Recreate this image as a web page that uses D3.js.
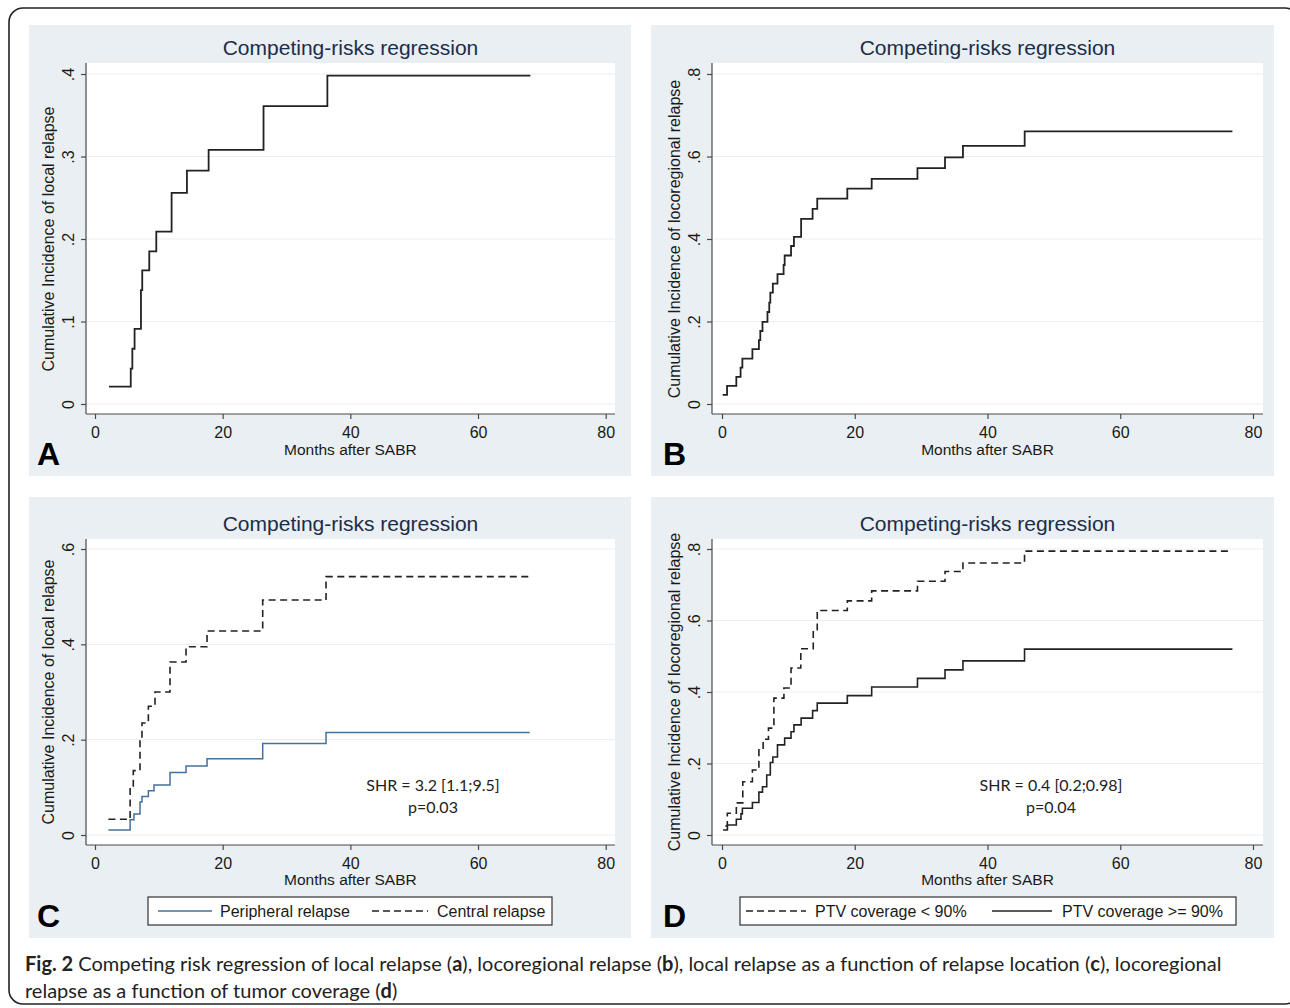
<!DOCTYPE html>
<html><head><meta charset="utf-8">
<script src="https://cdn.jsdelivr.net/npm/d3@7"></script>
<style>
html,body{margin:0;padding:0;background:#fff;}
svg{display:block;}
</style></head>
<body>
<svg id="fig" width="1290" height="1008"></svg>
<script>
// ---------------- DATA ----------------
const monthTicks = [0, 20, 40, 60, 80];
const panelTitle = "Competing-risks regression";
const xTitle = "Months after SABR";

// Panel A: local relapse
const aTime = [2.2, 5.6, 5.85, 6.2, 7.2, 7.4, 8.5, 9.6, 12.0, 14.4, 17.8, 26.4, 36.4];
const aCif  = [0.021, 0.043, 0.067, 0.091, 0.138, 0.162, 0.185, 0.209, 0.256, 0.283, 0.308, 0.361, 0.398];
const aEnd  = 68.2;
const aTicks = [0, 0.1, 0.2, 0.3, 0.4];

// Panel B: locoregional relapse
const bTime = [0.1, 0.76, 2.16, 2.8, 3.07, 4.58, 5.56, 5.77, 6.1, 6.85, 7.12, 7.28, 7.66, 8.36, 9.28, 9.44, 10.4, 10.84, 11.92, 13.65, 14.35, 18.88, 22.55, 29.45, 33.6, 36.3, 45.6];
const bCif  = [0.022, 0.044, 0.066, 0.088, 0.110, 0.133, 0.155, 0.177, 0.199, 0.223, 0.246, 0.270, 0.292, 0.315, 0.337, 0.360, 0.383, 0.405, 0.449, 0.473, 0.498, 0.522, 0.546, 0.572, 0.598, 0.626, 0.661];
const bEnd  = 76.9;
const bTicks = [0, 0.2, 0.4, 0.6, 0.8];

// Panel C: local relapse by relapse location
const cPeriTime = [2.1, 5.5, 6.1, 7.05, 7.36, 8.36, 9.24, 11.75, 14.26, 17.55, 26.27, 36.19];
const cPeriCif  = [0.0105, 0.032, 0.044, 0.069, 0.081, 0.093, 0.105, 0.131, 0.145, 0.160, 0.192, 0.215];
const cPeriEnd  = 68.1;
const cCentTime = [2.1, 5.5, 6.0, 7.05, 7.36, 8.36, 9.4, 11.75, 14.26, 17.55, 26.27, 36.19];
const cCentCif  = [0.033, 0.100, 0.135, 0.201, 0.235, 0.270, 0.300, 0.363, 0.395, 0.428, 0.493, 0.542];
const cCentEnd  = 67.9;
const cTicks = [0, 0.2, 0.4, 0.6];
const cLegend = ["Peripheral relapse", "Central relapse"];
const cNote = ["SHR = 3.2 [1.1;9.5]", "p=0.03"];

// Panel D: locoregional relapse by tumor coverage
const dLowTime = [0.5, 0.8, 2.16, 3.13, 4.58, 5.56, 6.2, 7.0, 7.82, 9.33, 10.4, 11.87, 13.75, 14.35, 18.88, 22.55, 29.45, 33.6, 36.3, 45.58];
const dLowCif  = [0.025, 0.061, 0.09, 0.149, 0.182, 0.238, 0.268, 0.299, 0.383, 0.411, 0.467, 0.521, 0.574, 0.628, 0.655, 0.683, 0.710, 0.737, 0.761, 0.794];
const dLowEnd  = 76.9;
const dHighTime = [0.16, 0.81, 2.16, 2.86, 3.07, 4.58, 5.56, 6.1, 6.74, 7.28, 7.66, 8.36, 9.44, 10.4, 10.84, 11.92, 13.65, 14.35, 18.88, 22.55, 29.45, 33.6, 36.3, 45.58];
const dHighCif  = [0.014, 0.028, 0.044, 0.059, 0.075, 0.091, 0.120, 0.135, 0.168, 0.203, 0.218, 0.252, 0.271, 0.289, 0.308, 0.327, 0.348, 0.369, 0.390, 0.414, 0.438, 0.462, 0.487, 0.520];
const dHighEnd  = 76.9;
const dTicks = [0, 0.2, 0.4, 0.6, 0.8];
const dLegend = ["PTV coverage < 90%", "PTV coverage >= 90%"];
const dNote = ["SHR = 0.4 [0.2;0.98]", "p=0.04"];

const yTitleLocal = "Cumulative Incidence of local relapse";
const yTitleLoco = "Cumulative Incidence of locoregional relapse";

// ---------------- STYLE ----------------
const FONT = "'Liberation Sans', Arial, Helvetica, sans-serif";
const CAPFONT = "Lato, 'Open Sans', sans-serif";
const BG = "#e9eff2";
const GRID = "#e9eff2";
const AXIS = "#4a4a4a";
const TITLE = "#1c2d4a";
const INK = "#1a1a1a";
const BLUE = "#44709c";
const DASH = "7,4.5";

const svg = d3.select("#fig");

// outer border
svg.append("rect").attr("x", 9).attr("y", 8).attr("width", 1290).attr("height", 996)
  .attr("rx", 14).attr("ry", 14).attr("fill", "none").attr("stroke", "#222").attr("stroke-width", 1.6);

function toPoints(times, vals, end) {
  const pts = times.map((t, i) => ({t, v: vals[i]}));
  pts.push({t: end, v: vals[vals.length - 1]});
  return pts;
}
const fmtY = d => d === 0 ? "0" : d3.format(".1f")(d).replace(/^0/, "");

function panel(cfg) {
  const g = svg.append("g");
  g.append("rect").attr("x", cfg.bg[0]).attr("y", cfg.bg[1]).attr("width", cfg.bg[2]).attr("height", cfg.bg[3]).attr("fill", BG);
  const p = cfg.plot;
  g.append("rect").attr("x", p.x0).attr("y", p.y0).attr("width", p.x1 - p.x0).attr("height", p.y1 - p.y0).attr("fill", "#fff");

  const x = d3.scaleLinear().domain([0, 80]).range(cfg.xr);
  const y = d3.scaleLinear().domain([0, cfg.ymax]).range(cfg.yr);

  // gridlines
  g.append("g").selectAll("line").data(cfg.yticks).join("line")
    .attr("x1", p.x0 + 1).attr("x2", p.x1).attr("y1", d => y(d)).attr("y2", d => y(d))
    .attr("stroke", GRID).attr("stroke-width", 1.2);

  // title
  g.append("text").attr("x", (p.x0 + p.x1) / 2).attr("y", p.y0 - 8).attr("text-anchor", "middle")
    .attr("font-family", FONT).attr("font-size", 21).attr("fill", TITLE).text(panelTitle);

  // x axis
  const xa = g.append("g").attr("transform", `translate(0,${p.y1})`)
    .call(d3.axisBottom(x).tickValues(monthTicks).tickSize(5).tickPadding(7).tickFormat(d3.format("d")));
  xa.select(".domain").attr("d", `M${p.x0},0H${p.x1}`).attr("stroke", AXIS).attr("stroke-width", 1.2);
  xa.selectAll(".tick line").attr("stroke", AXIS).attr("stroke-width", 1.2);
  xa.selectAll(".tick text").attr("font-family", FONT).attr("font-size", 16).attr("fill", INK).attr("dy", "0.72em");

  // y axis
  const ya = g.append("g").attr("transform", `translate(${p.x0},0)`)
    .call(d3.axisLeft(y).tickValues(cfg.yticks).tickSize(5).tickFormat(fmtY));
  ya.select(".domain").attr("d", `M0,${p.y0}V${p.y1}`).attr("stroke", AXIS).attr("stroke-width", 1.2);
  ya.selectAll(".tick line").attr("stroke", AXIS).attr("stroke-width", 1.2);
  ya.selectAll(".tick text").attr("font-family", FONT).attr("font-size", 16).attr("fill", INK)
    .attr("x", null).attr("dy", null).attr("text-anchor", "middle")
    .attr("transform", "translate(-12,0) rotate(-90)");

  // axis titles
  g.append("text").attr("x", (cfg.xr[0] + cfg.xr[1]) / 2).attr("y", cfg.xTitleY).attr("text-anchor", "middle")
    .attr("font-family", FONT).attr("font-size", 15.5).attr("fill", INK).text(xTitle);
  g.append("text").attr("transform", `translate(${p.x0 - 32},${(cfg.yr[0] + cfg.yr[1]) / 2}) rotate(-90)`)
    .attr("text-anchor", "middle").attr("font-family", FONT).attr("font-size", 16).attr("fill", INK).text(cfg.yTitle);

  // letter
  g.append("text").attr("x", cfg.letterPos[0]).attr("y", cfg.letterPos[1])
    .attr("font-family", FONT).attr("font-weight", "bold").attr("font-size", 32).attr("fill", "#000").text(cfg.letter);

  // series
  const line = d3.line().x(d => x(d.t)).y(d => y(d.v)).curve(d3.curveStepAfter);
  cfg.series.forEach(s => {
    g.append("path").datum(s.pts).attr("d", line).attr("fill", "none")
      .attr("stroke", s.color).attr("stroke-width", s.width)
      .attr("stroke-dasharray", s.dash || null);
  });

  // note
  if (cfg.note) {
    cfg.note.forEach((t, i) => {
      g.append("text").attr("x", cfg.notePos[0]).attr("y", cfg.notePos[1] + i * 22).attr("text-anchor", "middle")
        .attr("font-family", CAPFONT).attr("font-size", 16).attr("fill", "#222").text(t);
    });
  }

  // legend
  if (cfg.legend) {
    const L = cfg.legend;
    g.append("rect").attr("x", L.box[0]).attr("y", L.box[1]).attr("width", L.box[2]).attr("height", L.box[3])
      .attr("fill", "#fff").attr("stroke", "#333").attr("stroke-width", 1.2);
    const cy = L.box[1] + L.box[3] / 2;
    L.items.forEach(it => {
      g.append("line").attr("x1", it.lx[0]).attr("x2", it.lx[1]).attr("y1", cy).attr("y2", cy)
        .attr("stroke", it.color).attr("stroke-width", it.width).attr("stroke-dasharray", it.dash || null);
      g.append("text").attr("x", it.tx).attr("y", cy + 6).attr("font-family", FONT).attr("font-size", 16)
        .attr("fill", INK).text(it.label);
    });
  }
}

// Panel A
panel({
  bg: [29, 25, 602, 451], plot: {x0: 86, x1: 615, y0: 63, y1: 414},
  xr: [95, 605.7], yr: [404, 74], ymax: 0.4, yticks: aTicks,
  yTitle: yTitleLocal, xTitleY: 455, letter: "A", letterPos: [37, 465],
  series: [{pts: toPoints(aTime, aCif, aEnd), color: "#222", width: 1.8}]
});
// Panel B
panel({
  bg: [651, 25, 623, 451], plot: {x0: 712, x1: 1263, y0: 63, y1: 414},
  xr: [722, 1253], yr: [404, 74], ymax: 0.8, yticks: bTicks,
  yTitle: yTitleLoco, xTitleY: 455, letter: "B", letterPos: [663, 465],
  series: [{pts: toPoints(bTime, bCif, bEnd), color: "#222", width: 1.8}]
});
// Panel C
panel({
  bg: [29, 497, 602, 441], plot: {x0: 86, x1: 615, y0: 539, y1: 845},
  xr: [95, 605.7], yr: [835, 549], ymax: 0.6, yticks: cTicks,
  yTitle: yTitleLocal, xTitleY: 885, letter: "C", letterPos: [37, 927],
  series: [
    {pts: toPoints(cCentTime, cCentCif, cCentEnd), color: "#222", width: 1.6, dash: DASH},
    {pts: toPoints(cPeriTime, cPeriCif, cPeriEnd), color: BLUE, width: 1.5}
  ],
  note: cNote, notePos: [433, 791],
  legend: {box: [148, 897, 404, 28], items: [
    {lx: [158, 212], tx: 220, color: BLUE, width: 1.5, label: cLegend[0]},
    {lx: [372, 428], tx: 437, color: "#222", width: 1.5, dash: "7,4", label: cLegend[1]}
  ]}
});
// Panel D
panel({
  bg: [651, 497, 623, 441], plot: {x0: 712, x1: 1263, y0: 539, y1: 845},
  xr: [722, 1253], yr: [835, 549], ymax: 0.8, yticks: dTicks,
  yTitle: yTitleLoco, xTitleY: 885, letter: "D", letterPos: [663, 927],
  series: [
    {pts: toPoints(dLowTime, dLowCif, dLowEnd), color: "#222", width: 1.6, dash: DASH},
    {pts: toPoints(dHighTime, dHighCif, dHighEnd), color: "#222", width: 1.6}
  ],
  note: dNote, notePos: [1051, 791],
  legend: {box: [740, 897, 496, 28], items: [
    {lx: [746, 806], tx: 815, color: "#222", width: 1.5, dash: "7,4", label: dLegend[0]},
    {lx: [992, 1052], tx: 1062, color: "#222", width: 1.5, label: dLegend[1]}
  ]}
});

// caption
const cap1 = [["Fig. 2", true], [" Competing risk regression of local relapse (", false], ["a", true],
  ["), locoregional relapse (", false], ["b", true], ["), local relapse as a function of relapse location (", false],
  ["c", true], ["), locoregional", false]];
const cap2 = [["relapse as a function of tumor coverage (", false], ["d", true], [")", false]];
function caption(parts, yy) {
  const t = svg.append("text").attr("x", 25).attr("y", yy).attr("font-family", CAPFONT).attr("font-size", 20).attr("fill", "#222");
  parts.forEach(([s, b]) => t.append("tspan").attr("font-weight", b ? "bold" : "normal").text(s));
  return t;
}
caption(cap1, 971);
caption(cap2, 998);
</script>
</body></html>
